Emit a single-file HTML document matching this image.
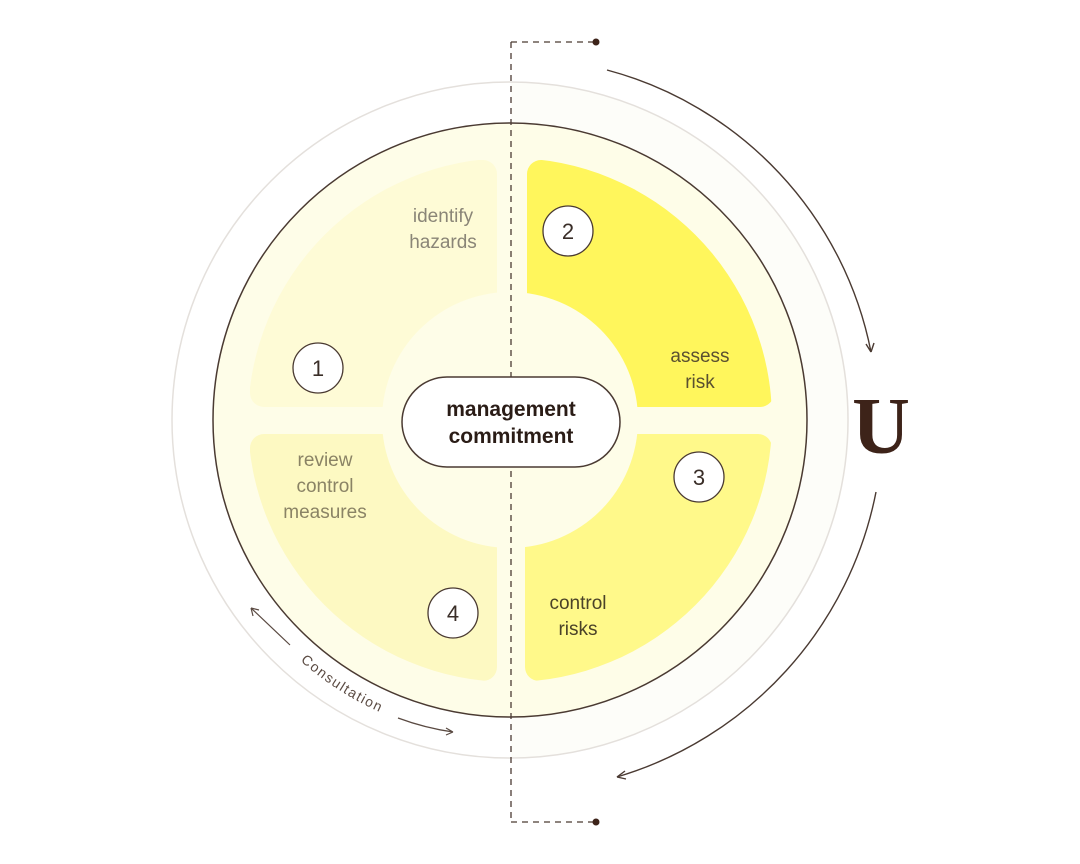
<!DOCTYPE html>
<html><head><meta charset="utf-8"><style>
html,body{margin:0;padding:0;background:#fff;width:1080px;height:864px;overflow:hidden}
svg{display:block}
text{font-family:"Liberation Sans",sans-serif}
</style></head><body>
<svg width="1080" height="864" viewBox="0 0 1080 864" xmlns="http://www.w3.org/2000/svg">
<defs>
<clipPath id="c"><circle cx="510" cy="420" r="262"/></clipPath>
<mask id="m" maskUnits="userSpaceOnUse" x="0" y="0" width="1080" height="864">
<rect x="0" y="0" width="1080" height="864" fill="#fff"/>
<circle cx="510" cy="420" r="128" fill="#000"/>
</mask>
<path id="cons" d="M 265.9 625.6 A 320 320 0 0 0 427 729.1" fill="none"/>
</defs>
<path d="M511 82 A338 338 0 0 1 511 758 Z" fill="#fdfdf9"/>
<circle cx="510" cy="420" r="338" fill="none" stroke="#e4e0dc" stroke-width="1.5"/>
<circle cx="510" cy="420" r="297" fill="#fefde8" stroke="#4a3a32" stroke-width="1.5"/>
<g clip-path="url(#c)" mask="url(#m)">
<rect x="250" y="160" width="247" height="247" rx="14" fill="#fefbd6"/>
<rect x="527" y="160" width="247" height="247" rx="14" fill="#fff65c"/>
<rect x="525" y="434" width="247" height="247" rx="14" fill="#fff98a"/>
<rect x="250" y="434" width="247" height="247" rx="14" fill="#fdf9c2"/>
</g>
<path d="M511 42 V822 M511 42 H596 M511 822 H596" fill="none" stroke="#4a3a32" stroke-width="1.3" stroke-dasharray="6 5"/>
<circle cx="596" cy="42" r="3.5" fill="#3d2319"/>
<circle cx="596" cy="822" r="3.5" fill="#3d2319"/>
<rect x="402" y="377" width="218" height="90" rx="45" fill="#fff" stroke="#4a3a32" stroke-width="1.5"/>
<text x="511" y="416" text-anchor="middle" font-size="21" font-weight="bold" fill="#2a1c16">management</text>
<text x="511" y="443" text-anchor="middle" font-size="21" font-weight="bold" fill="#2a1c16">commitment</text>
<g fill="#fff" stroke="#4a3a32" stroke-width="1.3">
<circle cx="318" cy="368" r="25"/><circle cx="568" cy="231" r="25"/>
<circle cx="699" cy="477" r="25"/><circle cx="453" cy="613" r="25"/>
</g>
<g font-size="22" fill="#3a2e28" text-anchor="middle">
<text x="318" y="376">1</text><text x="568" y="239">2</text>
<text x="699" y="485">3</text><text x="453" y="621">4</text>
</g>
<g font-size="19" text-anchor="middle">
<text x="443" y="222" fill="#8a8577">identify</text>
<text x="443" y="248" fill="#8a8577">hazards</text>
<text x="700" y="362" fill="#5a5030">assess</text>
<text x="700" y="388" fill="#5a5030">risk</text>
<text x="325" y="466" fill="#8a8365">review</text>
<text x="325" y="492" fill="#8a8365">control</text>
<text x="325" y="518" fill="#8a8365">measures</text>
<text x="578" y="609" fill="#4a4228">control</text>
<text x="578" y="635" fill="#4a4228">risks</text>
</g>
<text font-size="14" fill="#5a4a42" letter-spacing="1.5"><textPath href="#cons" startOffset="50%" text-anchor="middle">Consultation</textPath></text>
<path d="M290 645 L251 608 M251 608 l2 8 M251 608 l8 2" fill="none" stroke="#5a4a42" stroke-width="1.2"/>
<path d="M398 718 Q425 728 453 732 M453 732 l-7 -4 M453 732 l-7 3" fill="none" stroke="#5a4a42" stroke-width="1.2"/>
<path d="M607 70 A365 365 0 0 1 871 352" fill="none" stroke="#4a3a32" stroke-width="1.4"/>
<path d="M871 352 l-5 -8 M871 352 l3 -9" fill="none" stroke="#4a3a32" stroke-width="1.4"/>
<path d="M876 492 A372 372 0 0 1 617 777" fill="none" stroke="#4a3a32" stroke-width="1.4"/>
<path d="M617 777 l8 -6 M617 777 l9 2" fill="none" stroke="#4a3a32" stroke-width="1.4"/>
<text x="881" y="453" text-anchor="middle" style="font-family:'Liberation Serif',serif;font-weight:bold;font-size:80px" fill="#3d2319">U</text>
</svg>
</body></html>
